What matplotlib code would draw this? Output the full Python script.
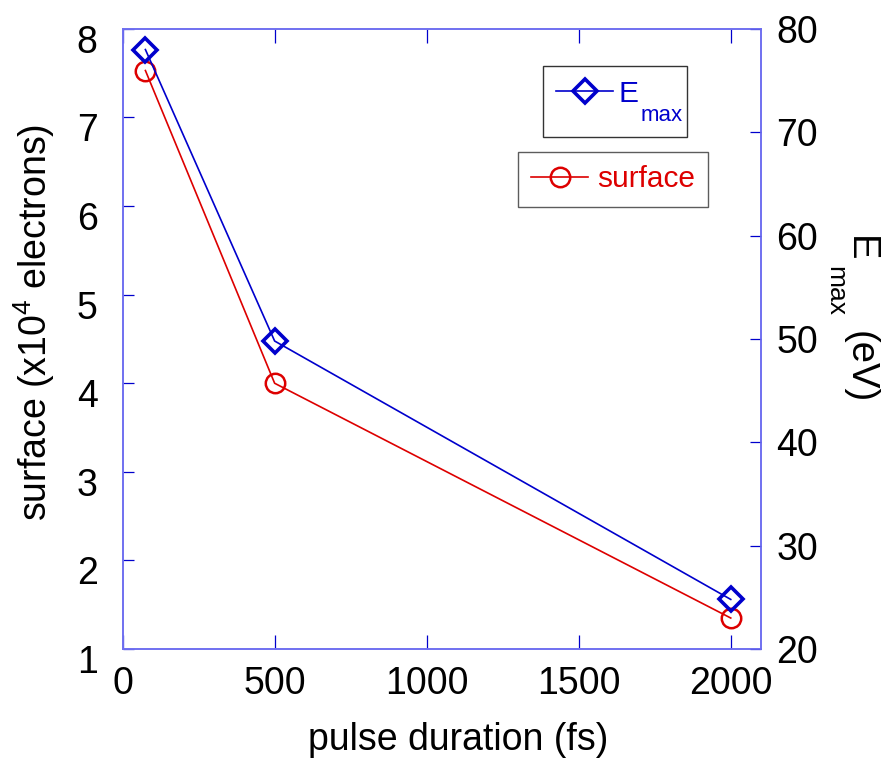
import numpy as np
import matplotlib
matplotlib.use('Agg')
import matplotlib.pyplot as plt
import matplotlib.transforms as mtransforms
from matplotlib.patches import Rectangle

plt.rcParams['font.family'] = ['Liberation Sans', 'DejaVu Sans']
plt.rcParams['mathtext.default'] = 'regular'

pulse_fs = [75, 500, 2000]
surface = [7.53, 4.0, 1.35]
e_max = [78.0, 49.8, 24.8]

blue = '#0000cc'
red = '#dd0000'
spine_c = '#6f6ff0'
W, H = 882, 760

fig = plt.figure(figsize=(8.82, 7.6), dpi=100)
ax = fig.add_axes([0.139, 0.146, 0.724, 0.816])
ax2 = ax.twinx()

l2, = ax.plot(pulse_fs, surface, color=red, lw=1.2, marker='o', ms=14,
              mfc='none', mec=red, mew=1.8, label='surface')
l1, = ax2.plot(pulse_fs, e_max, color=blue, lw=1.2, marker='D', ms=12,
               mfc='none', mec=blue, mew=2.6, label='E')

ax.set_xlim(0, 2100)
ax.set_ylim(1, 8)
ax2.set_ylim(20, 80)
ax.set_xticks([0, 500, 1000, 1500, 2000])
ax.set_yticks(range(1, 9))
ax2.set_yticks(range(20, 81, 10))

for a in (ax, ax2):
    for s in a.spines.values():
        s.set_color(spine_c)
        s.set_linewidth(1.2)
ax.tick_params(axis='x', direction='in', length=10, width=0.9, color=blue,
               labelsize=27, pad=12, top=True)
ax.tick_params(axis='y', direction='in', length=8, width=0.9, color=blue,
               labelsize=27, pad=18, right=False)
ax2.tick_params(axis='y', direction='in', length=8, width=0.9, color=blue,
                labelsize=27, pad=11)

# left tick labels sit a bit below their ticks in the original
off = mtransforms.ScaledTranslation(0, -10 / 100, fig.dpi_scale_trans)
for lab in ax.get_yticklabels():
    lab.set_transform(lab.get_transform() + off)

ax.set_xlabel('pulse duration (fs)', fontsize=27)
ax.xaxis.set_label_coords(0.525, -0.118)
ax.set_ylabel('surface (x10$^4$ electrons)', fontsize=27)
ax.yaxis.set_label_coords(-0.1025, 0.526)

# right axis label, with the deep subscript of the original
fig.text(850 / W, 1 - 236 / H, 'E', fontsize=27.5, rotation=270,
         rotation_mode='anchor', ha='left', va='baseline')
fig.text(828 / W, 1 - 266 / H, 'max', fontsize=19, rotation=270,
         rotation_mode='anchor', ha='left', va='baseline')
fig.text(850 / W, 1 - 331 / H, '(eV)', fontsize=27.5, rotation=270,
         rotation_mode='anchor', ha='left', va='baseline')

# E_max legend: box drawn separately so it can hold the lowered subscript
ax2.add_patch(Rectangle((0.658, 0.8255), 0.2254, 0.1145, transform=ax2.transAxes,
                        fc='white', ec='#333333', lw=1.0, zorder=4.9,
                        clip_on=False))
leg1 = ax2.legend(handles=[l1], loc='upper left',
                  bbox_to_anchor=(0.658, 0.940), borderaxespad=0,
                  fontsize=21.5, frameon=False, handlelength=1.9,
                  handletextpad=0.2, borderpad=0.45, labelcolor='linecolor')
ax2.add_artist(leg1)

leg2 = ax2.legend(handles=[l2], loc='upper left',
                  bbox_to_anchor=(0.619, 0.802), borderaxespad=0,
                  fontsize=21.5, frameon=True, fancybox=False, handlelength=1.9,
                  handletextpad=0.3, borderpad=0.45, labelcolor='linecolor')
leg2.get_frame().set_edgecolor('#333333')
leg2.get_frame().set_linewidth(1.0)

# subscript of the legend entry, placed once the legend has been laid out
fig.canvas.draw()
bb = leg1.get_texts()[0].get_window_extent()
x0, y0 = fig.transFigure.inverted().transform((bb.x1 + 2, bb.y0 - 13))
fig.text(x0, y0, 'max', fontsize=16, color=blue, ha='left', va='baseline')

fig.savefig('out.png', dpi=100)
